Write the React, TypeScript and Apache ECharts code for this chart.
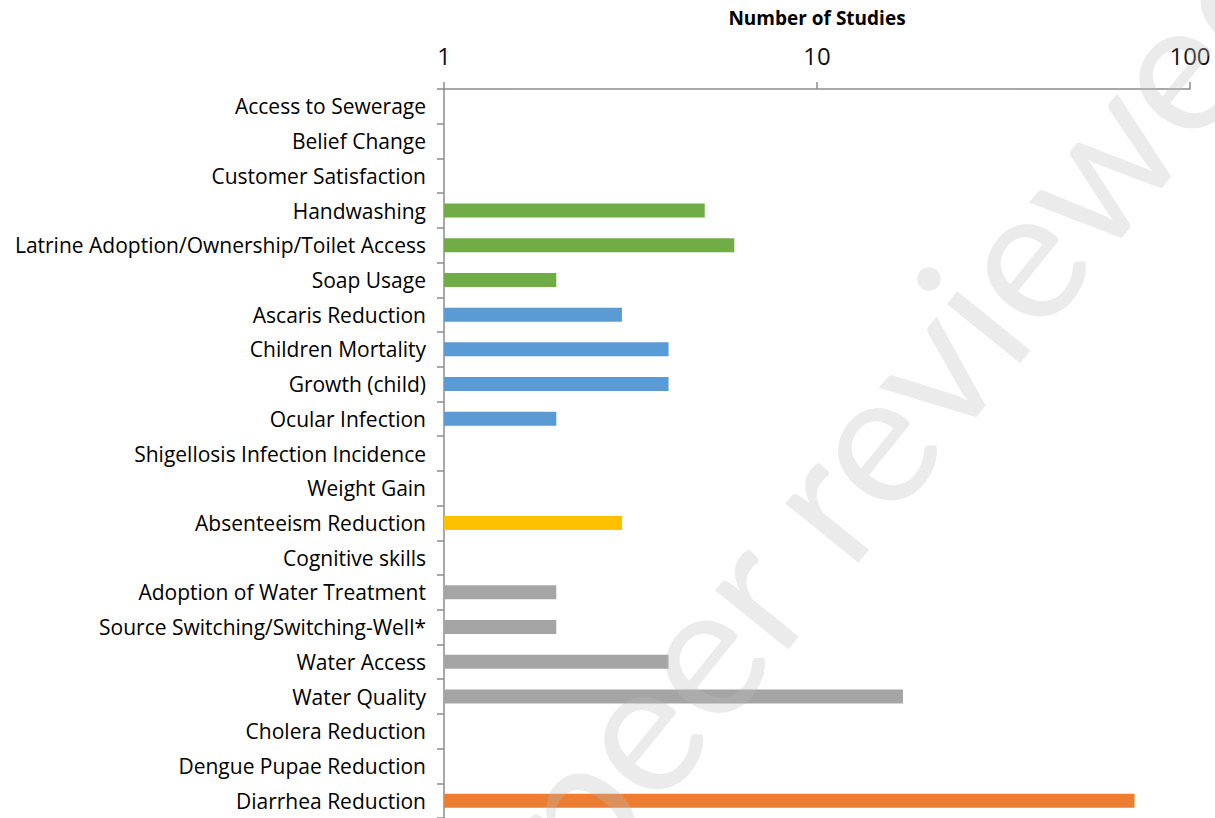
import React, { useEffect, useRef } from "react";
import * as echarts from "echarts";

const categories = [
  "Access to Sewerage",
  "Belief Change",
  "Customer Satisfaction",
  "Handwashing",
  "Latrine Adoption/Ownership/Toilet Access",
  "Soap Usage",
  "Ascaris Reduction",
  "Children Mortality",
  "Growth (child)",
  "Ocular Infection",
  "Shigellosis Infection Incidence",
  "Weight Gain",
  "Absenteeism Reduction",
  "Cognitive skills",
  "Adoption of Water Treatment",
  "Source Switching/Switching-Well*",
  "Water Access",
  "Water Quality",
  "Cholera Reduction",
  "Dengue Pupae Reduction",
  "Diarrhea Reduction",
];

const studies = [1, 1, 1, 5, 6, 2, 3, 4, 4, 2, 1, 1, 3, 1, 2, 2, 4, 17, 1, 1, 71];

const groups = [
  "behaviour", "behaviour", "behaviour", "behaviour", "behaviour", "behaviour",
  "health", "health", "health", "health", "health", "health",
  "education", "education",
  "water", "water", "water", "water",
  "disease", "disease", "disease",
];

const groupColors: Record<string, string> = {
  behaviour: "#70AD47",
  health: "#5B9BD5",
  education: "#FFC000",
  water: "#A5A5A5",
  disease: "#ED7D31",
};

const FONT = "'Open Sans', Lato, sans-serif";
const WM_FONT = "Lato, 'Open Sans', sans-serif";

export default function App() {
  const ref = useRef<HTMLDivElement>(null);
  useEffect(() => {
    if (!ref.current) return;
    const chart = echarts.init(ref.current, undefined, { renderer: "svg" });
    chart.setOption({
      animation: false,
      backgroundColor: "#fff",
      grid: { left: 444, right: 25, top: 89, height: 731 },
      xAxis: {
        type: "log",
        logBase: 10,
        min: 1,
        max: 100,
        position: "top",
        name: "Number of Studies",
        nameLocation: "middle",
        nameGap: 62,
        nameTextStyle: { fontFamily: FONT, fontSize: 19, fontWeight: "bold", color: "#000" },
        axisLine: { show: true, lineStyle: { color: "#8c8c8c", width: 1.5 } },
        axisTick: { show: true, inside: false, length: 7, lineStyle: { color: "#8c8c8c", width: 1.5 } },
        minorTick: { show: false },
        splitLine: { show: false },
        axisLabel: { fontFamily: FONT, fontSize: 24, color: "#111", margin: 22 },
      },
      yAxis: {
        type: "category",
        inverse: true,
        data: categories,
        axisLine: { show: true, lineStyle: { color: "#8c8c8c", width: 1.5 } },
        axisTick: { show: true, inside: false, length: 7, lineStyle: { color: "#8c8c8c", width: 1.5 } },
        axisLabel: { fontFamily: FONT, fontSize: 21, color: "#000", margin: 18, interval: 0 },
        splitLine: { show: false },
      },
      series: [
        {
          type: "bar",
          barWidth: 14,
          data: studies.map((v, i) => ({
            value: v,
            itemStyle: { color: groupColors[groups[i]] },
          })),
        },
      ],
      graphic: [
        {
          type: "text",
          x: 535,
          y: 848,
          rotation: (51 * Math.PI) / 180,
          z: 100,
          silent: true,
          style: {
            text: "peer reviewed",
            font: `186px ${WM_FONT}`,
            fill: "rgba(190,190,190,0.3)",
            align: "left",
            verticalAlign: "middle",
          },
        },
      ],
    });
    return () => chart.dispose();
  }, []);
  return (
    <div
      ref={ref}
      style={{ position: "absolute", left: 0, top: 0, width: 1215, height: 818 }}
    />
  );
}
